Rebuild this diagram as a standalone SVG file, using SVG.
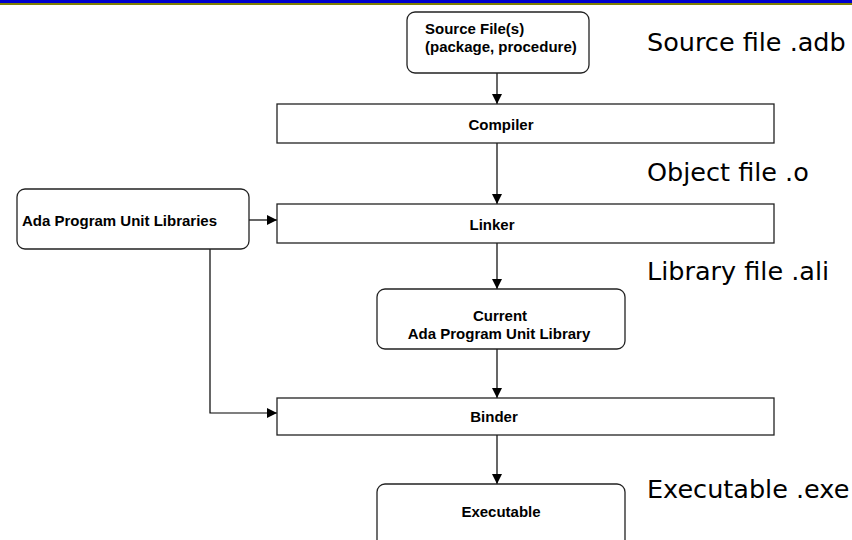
<svg xmlns="http://www.w3.org/2000/svg" width="852" height="540" viewBox="0 0 852 540">
  <style>
    .box { fill: #ffffff; stroke: #222222; stroke-width: 1.3; }
    .lbl { font-family: "Liberation Sans", Arial, sans-serif; font-weight: bold; font-size: 15px; fill: #000000; }
    .mid { text-anchor: middle; }
    .side { font-family: "DejaVu Sans", Verdana, sans-serif; font-size: 25.5px; fill: #000000; }
    .wire { fill: none; stroke: #000000; stroke-width: 1.2; }
  </style>
  <defs>
    <marker id="arrow" viewBox="0 0 10 10" refX="10" refY="5" markerWidth="10" markerHeight="10" markerUnits="userSpaceOnUse" orient="auto">
      <path d="M0,0 L10,5 L0,10 Z" fill="#000000"/>
    </marker>
  </defs>

  <!-- header bands -->
  <rect x="0" y="0" width="852" height="3" fill="#0000cc"/>
  <rect x="0" y="3" width="852" height="2" fill="#808000"/>

  <!-- connectors -->
  <g id="connectors">
    <path class="wire" d="M497,73 L497,104" marker-end="url(#arrow)"/>
    <path class="wire" d="M497,143 L497,204" marker-end="url(#arrow)"/>
    <path class="wire" d="M249,220 L277,220" marker-end="url(#arrow)"/>
    <path class="wire" d="M497,243 L497,289" marker-end="url(#arrow)"/>
    <path class="wire" d="M497,349 L497,398" marker-end="url(#arrow)"/>
    <path class="wire" d="M210,249 L210,413 L277,413" marker-end="url(#arrow)"/>
    <path class="wire" d="M497,435 L497,484" marker-end="url(#arrow)"/>
  </g>

  <g id="source">
    <rect class="box" x="407" y="12" width="182" height="61" rx="8"/>
    <text class="lbl" x="425" y="34">Source File(s)</text>
    <text class="lbl" x="425" y="52">(package, procedure)</text>
  </g>

  <g id="compiler">
    <rect class="box" x="277" y="104" width="497" height="39"/>
    <text class="lbl mid" x="501" y="130">Compiler</text>
  </g>

  <g id="libraries">
    <rect class="box" x="17" y="189" width="232" height="60" rx="8"/>
    <text class="lbl" x="22" y="226">Ada Program Unit Libraries</text>
  </g>

  <g id="linker">
    <rect class="box" x="277" y="204" width="497" height="39"/>
    <text class="lbl mid" x="492" y="230">Linker</text>
  </g>

  <g id="current-library">
    <rect class="box" x="377" y="289" width="248" height="60" rx="8"/>
    <text class="lbl mid" x="500" y="321">Current</text>
    <text class="lbl mid" x="499" y="339">Ada Program Unit Library</text>
  </g>

  <g id="binder">
    <rect class="box" x="277" y="398" width="497" height="37"/>
    <text class="lbl mid" x="494" y="422">Binder</text>
  </g>

  <g id="executable">
    <rect class="box" x="377" y="484" width="248" height="70" rx="8"/>
    <text class="lbl mid" x="501" y="517">Executable</text>
  </g>

  <!-- file kinds produced at each stage -->
  <g id="file-kinds">
    <text class="side" x="647" y="51">Source file .adb</text>
    <text class="side" x="647" y="181">Object file .o</text>
    <text class="side" x="647" y="280">Library file .ali</text>
    <text class="side" x="647" y="498">Executable .exe</text>
  </g>
</svg>
